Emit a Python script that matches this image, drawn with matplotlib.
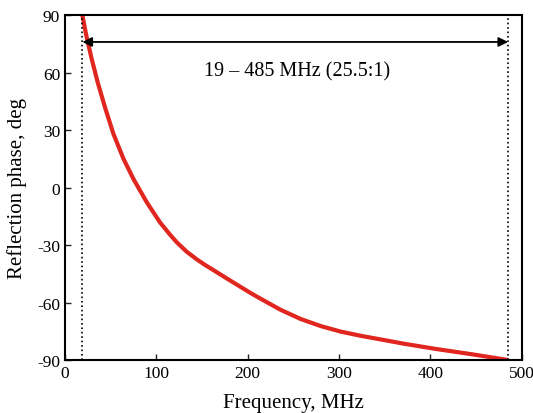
import numpy as np
import matplotlib.pyplot as plt

plt.rcParams['font.family'] = ['Liberation Serif', 'DejaVu Serif']
plt.rcParams['axes.unicode_minus'] = False

# values
freq = [19, 23, 29, 36, 44, 53, 64, 75, 89.5, 104, 115, 122.4, 133, 144,
        153, 162.5, 177, 192, 203, 214, 236, 258, 280, 302, 324, 346, 371,
        407, 444, 485]
phase = [90, 80, 67.5, 54.5, 41.5, 28, 15, 4.4, -7.7, -18.2, -24.6, -28.6,
         -33.4, -37.4, -40.3, -43.1, -47.4, -51.8, -55.0, -58.0, -63.8,
         -68.6, -72.3, -75.2, -77.4, -79.3, -81.5, -84.3, -86.9, -90]
f_low, f_high = 19, 485
band_text = '19 – 485 MHz (25.5:1)'
xticks = [0, 100, 200, 300, 400, 500]
yticks = [-90, -60, -30, 0, 30, 60, 90]

fig = plt.figure(figsize=(5.33, 4.14), dpi=100)
ax = fig.add_axes([0.122, 0.128, 0.857, 0.833])

ax.plot(freq, phase, color='#e0261e', lw=3, solid_capstyle='butt',
        solid_joinstyle='round')
ax.axvline(f_low, color='black', ls=':', lw=1.2)
ax.axvline(f_high, color='black', ls=':', lw=1.2)
ax.annotate('', xy=(f_low, 76), xytext=(f_high, 76),
            arrowprops=dict(arrowstyle='<|-|>', color='black', lw=1.3,
                            mutation_scale=14, shrinkA=0, shrinkB=0))
ax.text(254, 61, band_text, ha='center', va='center', fontsize=14.5)

ax.set_xlim(0, 500)
ax.set_ylim(-90, 90)
ax.set_xticks(xticks)
ax.set_yticks(yticks)
ax.tick_params(direction='in', length=4, width=1, labelsize=12.5,
               colors='#222222', labelcolor='black')
for s in ax.spines.values():
    s.set_linewidth(1.5)
ax.set_xlabel('Frequency, MHz', fontsize=15, labelpad=9)
ax.set_ylabel('Reflection phase, deg', fontsize=15, labelpad=7)

fig.savefig('out.png', dpi=100)
